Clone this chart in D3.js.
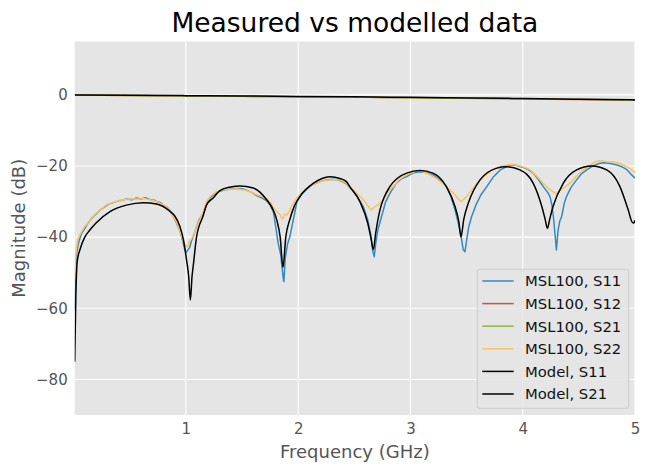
<!DOCTYPE html>
<html>
<head>
<meta charset="utf-8">
<script src="https://cdn.jsdelivr.net/npm/d3@7"></script>
<style>
  html, body { margin: 0; padding: 0; background: #fff; }
  svg { display: block; font-family: "DejaVu Sans", sans-serif; }
</style>
</head>
<body>
<svg id="chart" width="652" height="473"></svg>
<script>
// ---------------- data ----------------
const title = "Measured vs modelled data";
const xLabel = "Frequency (GHz)";
const yLabel = "Magnitude (dB)";
const xTicks = [1, 2, 3, 4, 5];
const yTicks = [0, -20, -40, -60, -80];
const seriesNames = ["MSL100, S11", "MSL100, S12", "MSL100, S21", "MSL100, S22", "Model, S11", "Model, S21"];
const seriesColors = ["#348ABD", "#C8553F", "#8EBA42", "#FBC15E", "#000000", "#000000"];

// measured S11 (GHz, dB)
const measS11Freq = [0.01,0.015,0.02,0.03,0.045,0.07,0.1,0.13,0.16,0.2,0.234,0.27,0.31,0.352,0.4,0.44,0.47,0.52,0.56,0.6,0.64,0.68,0.72,0.74,0.78,0.81,0.828,0.86,0.887,0.917,0.95,0.975,0.991,1.005,1.02,1.035,1.05,1.07,1.095,1.12,1.154,1.184,1.22,1.273,1.33,1.392,1.45,1.5,1.54,1.59,1.63,1.68,1.72,1.75,1.78,1.8,1.822,1.845,1.865,1.873,1.885,1.905,1.926,1.945,1.956,1.99,2.03,2.075,2.13,2.194,2.25,2.313,2.37,2.43,2.49,2.53,2.58,2.62,2.645,2.665,2.678,2.69,2.71,2.743,2.78,2.817,2.87,2.92,2.966,3.02,3.085,3.14,3.2,3.26,3.32,3.36,3.397,3.427,3.45,3.47,3.486,3.5,3.52,3.545,3.59,3.63,3.68,3.74,3.8,3.886,3.94,4.005,4.05,4.094,4.14,4.183,4.22,4.243,4.26,4.273,4.29,4.3,4.315,4.33,4.347,4.37,4.39,4.43,4.48,4.52,4.57,4.63,4.68,4.72,4.78,4.84,4.89,4.93,4.97,5.0];
const measS11 = [-60.5,-55,-48,-44,-41.5,-39,-37.5,-36,-34.8,-33.5,-32.4,-31.6,-30.8,-30.3,-29.8,-29.6,-29.3,-29.5,-29.0,-29.3,-28.9,-29.4,-29.6,-30,-30.4,-31.3,-31.4,-32.6,-34.2,-36.1,-38.5,-41.5,-43.6,-44.2,-43.5,-42.8,-41,-39.5,-37,-35,-33.3,-30.5,-28.8,-27.4,-26.8,-26.5,-26.3,-26.4,-26.8,-27.5,-28.3,-29.0,-29.8,-31,-33,-37,-41.7,-45,-51,-52.5,-46,-42,-39.9,-37,-35.2,-30,-28,-26.5,-25.2,-24.4,-23.9,-23.7,-24,-25,-27.1,-28.8,-31.4,-35.2,-39,-44,-45.5,-42,-38,-34.2,-30,-27.7,-25,-23.6,-23,-22,-21.6,-21.8,-22.5,-23.8,-25.8,-28.5,-32.4,-36.1,-39.5,-43.5,-44.1,-41,-37,-34.2,-30.5,-28,-25.8,-23,-21.1,-19.7,-19.8,-20.4,-21,-22,-23.8,-25.8,-27.3,-28.6,-31,-34.2,-40,-43.6,-38,-35.5,-34.2,-30.5,-28.6,-26,-23.9,-22.3,-21.1,-19.9,-19.3,-19.1,-19.3,-19.7,-20.3,-21.1,-22.5,-23.4];

// measured S22
const measS22Freq = [0.01,0.015,0.02,0.03,0.045,0.07,0.1,0.145,0.2,0.234,0.29,0.352,0.4,0.47,0.52,0.58,0.62,0.68,0.74,0.79,0.828,0.887,0.92,0.95,0.98,1.0,1.015,1.03,1.05,1.07,1.095,1.154,1.184,1.22,1.273,1.33,1.392,1.45,1.5,1.54,1.6,1.63,1.68,1.72,1.76,1.78,1.81,1.84,1.855,1.867,1.88,1.9,1.926,1.95,1.986,2.03,2.075,2.13,2.194,2.25,2.313,2.372,2.43,2.49,2.54,2.58,2.62,2.654,2.68,2.71,2.758,2.8,2.847,2.9,2.966,3.03,3.085,3.15,3.233,3.29,3.352,3.4,3.44,3.456,3.475,3.5,3.54,3.59,3.65,3.71,3.78,3.857,3.91,3.975,4.02,4.065,4.12,4.183,4.24,4.3,4.33,4.36,4.42,4.48,4.54,4.6,4.64,4.688,4.74,4.807,4.86,4.926,4.96,5.0];
const measS22 = [-52,-48,-45,-42,-40,-38.5,-37,-35.5,-33.3,-32.4,-31,-30.2,-29.8,-29.4,-29.2,-29.3,-29.1,-29.5,-30,-30.8,-31.4,-34.2,-36,-38.5,-41.5,-42.5,-42.7,-41.3,-40.5,-39.5,-37,-33,-30,-28.5,-27.2,-26.7,-26.6,-26.4,-26.7,-26.9,-27.6,-28.1,-28.6,-29.3,-30.5,-31.8,-32.8,-33.7,-34.8,-34.7,-33.5,-33.8,-32.4,-30.8,-29.1,-27.5,-26.3,-25.2,-24.4,-24,-23.9,-23.9,-24.9,-26.7,-28.2,-29.5,-31.2,-32.4,-31.5,-31,-29.5,-27.3,-25.8,-23.8,-22.5,-21.6,-21.3,-22.1,-23.5,-25,-26.7,-28.2,-29.7,-30,-29.3,-28.6,-27,-24.9,-23,-21.6,-20.3,-19.7,-19.6,-20,-20.4,-21.1,-22.7,-24.9,-26.6,-27.9,-26.9,-26.3,-24.9,-22.8,-21.1,-19.8,-18.9,-18.5,-18.7,-18.8,-19.2,-20.2,-20.8,-21.9];

// measured S12 / S21 (transmission)
const measThruFreq = [0.01,0.25,0.5,0.75,1,1.25,1.5,1.75,2,2.25,2.5,2.75,3,3.25,3.5,3.75,4,4.25,4.5,4.75,5];
const measS12 = [-0.02,-0.1,-0.2,-0.25,-0.3,-0.36,-0.4,-0.47,-0.52,-0.58,-0.62,-0.72,-0.78,-0.85,-0.95,-1.02,-1.12,-1.2,-1.28,-1.35,-1.42];
const measS21 = [-0.02,-0.11,-0.19,-0.26,-0.31,-0.35,-0.41,-0.46,-0.53,-0.57,-0.63,-0.71,-0.79,-0.86,-0.94,-1.03,-1.11,-1.21,-1.27,-1.36,-1.43];

// model S11
const modelS11Freq = [0.01,0.02,0.032,0.056,0.1,0.145,0.2,0.324,0.47,0.62,0.74,0.86,0.9,0.947,0.98,1.006,1.025,1.04,1.055,1.065,1.095,1.154,1.184,1.243,1.303,1.4,1.48,1.6,1.72,1.78,1.81,1.84,1.865,1.89,1.926,1.97,2.015,2.134,2.283,2.372,2.43,2.46,2.55,2.62,2.65,2.67,2.69,2.728,2.77,2.817,2.966,3.085,3.2,3.32,3.397,3.43,3.45,3.475,3.515,3.62,3.77,3.857,3.975,4.094,4.17,4.2,4.22,4.24,4.27,4.36,4.48,4.614,4.748,4.866,4.94,4.975,4.99,5.0];
const modelS11 = [-75,-57,-47,-43.6,-40,-38,-36,-32.8,-31,-30.3,-30.7,-32.8,-34,-37,-41,-46.4,-51,-57.7,-51,-48.3,-40,-34,-31,-29,-26.9,-25.9,-25.6,-26.2,-29.5,-32.5,-35.2,-40,-48.5,-40,-35,-31,-28.6,-24.9,-23,-23.5,-24.4,-25.8,-30,-36.1,-40.5,-43.5,-39,-32.4,-28.5,-25.8,-22,-21.3,-22,-25.8,-31.4,-35.5,-39.9,-35,-30.5,-23.9,-20.6,-20.2,-21.1,-24.9,-31.4,-35,-37.5,-35,-31.4,-24.9,-21.1,-20,-21.1,-25.8,-32.4,-35.8,-36,-35.2];

// model S21
const modelS21Freq = [0.01,0.5,1,1.5,2,2.5,3,3.5,4,4.5,5];
const modelS21 = [-0.01,-0.12,-0.22,-0.32,-0.43,-0.55,-0.7,-0.85,-1.03,-1.22,-1.42];

// ---------------- chart ----------------
const svg = d3.select("#chart");
const W = 652, H = 473;
const plot = { left: 74.7, right: 635, top: 41.5, bottom: 415 };

const x = d3.scaleLinear().domain([0.01, 5]).range([plot.left, plot.right]);
const y = d3.scaleLinear().domain([-90, 15]).range([plot.bottom, plot.top]);

svg.append("rect").attr("width", W).attr("height", H).attr("fill", "#fff");
svg.append("rect")
  .attr("x", plot.left).attr("y", plot.top)
  .attr("width", plot.right - plot.left).attr("height", plot.bottom - plot.top)
  .attr("fill", "#E5E5E5");

// grid
const grid = svg.append("g");
grid.selectAll(".gx").data(xTicks).join("line")
  .attr("x1", d => x(d)).attr("x2", d => x(d))
  .attr("y1", plot.top).attr("y2", plot.bottom)
  .attr("stroke", "#fff").attr("stroke-width", 1.1);
grid.selectAll(".gy").data(yTicks).join("line")
  .attr("x1", plot.left).attr("x2", plot.right)
  .attr("y1", d => y(d)).attr("y2", d => y(d))
  .attr("stroke", "#fff").attr("stroke-width", 1.1);

// axes (labels only, no tick marks, no domain)
const xAxis = svg.append("g")
  .attr("transform", `translate(0,${plot.bottom})`)
  .call(d3.axisBottom(x).tickValues(xTicks).tickFormat(d3.format("d")).tickSize(0).tickPadding(8));
const yAxis = svg.append("g")
  .attr("transform", `translate(${plot.left},0)`)
  .call(d3.axisLeft(y).tickValues(yTicks).tickFormat(d => d < 0 ? "\u2212" + Math.abs(d) : String(d)).tickSize(0).tickPadding(7));
[xAxis, yAxis].forEach(a => {
  a.select(".domain").remove();
  a.selectAll("text").attr("fill", "#555555").style("font-size", "15px")
    .style("font-family", "'DejaVu Sans', sans-serif");
});

// clip
svg.append("defs").append("clipPath").attr("id", "clip")
  .append("rect").attr("x", plot.left).attr("y", plot.top)
  .attr("width", plot.right - plot.left).attr("height", plot.bottom - plot.top);

const lineLinear = d3.line().x(d => x(d[0])).y(d => y(d[1]));
const lineSmooth = d3.line().x(d => x(d[0])).y(d => y(d[1])).curve(d3.curveMonotoneX);
const zip = (fs, vs) => fs.map((f, i) => [f, vs[i]]);

const seriesData = [
  zip(measS11Freq, measS11),
  zip(measThruFreq, measS12),
  zip(measThruFreq, measS21),
  zip(measS22Freq, measS22),
  zip(modelS11Freq, modelS11),
  zip(modelS21Freq, modelS21)
];

const lines = svg.append("g").attr("clip-path", "url(#clip)");
seriesData.forEach((data, i) => {
  lines.append("path")
    .datum(data)
    .attr("d", i >= 4 ? lineSmooth : lineLinear)
    .attr("fill", "none")
    .attr("stroke", seriesColors[i])
    .attr("stroke-width", 1.5)
    .attr("stroke-linejoin", "round");
});

// title & labels
svg.append("text")
  .attr("x", (plot.left + plot.right) / 2).attr("y", 31.5)
  .attr("text-anchor", "middle")
  .style("font-size", "26.5px").attr("fill", "#000")
  .text(title);
svg.append("text")
  .attr("x", (plot.left + plot.right) / 2).attr("y", 458)
  .attr("text-anchor", "middle")
  .style("font-size", "18px").attr("fill", "#555555")
  .text(xLabel);
svg.append("text")
  .attr("transform", `translate(25,${(plot.top + plot.bottom) / 2}) rotate(-90)`)
  .attr("text-anchor", "middle")
  .style("font-size", "18px").attr("fill", "#555555")
  .text(yLabel);

// legend
const lg = svg.append("g");
const lgBox = { x: 477.3, y: 269.3, w: 151.4, h: 139 };
lg.append("rect")
  .attr("x", lgBox.x).attr("y", lgBox.y).attr("width", lgBox.w).attr("height", lgBox.h)
  .attr("rx", 2).attr("fill", "#E5E5E5").attr("fill-opacity", 0.8)
  .attr("stroke", "#CCCCCC").attr("stroke-width", 1);
const rowY = d3.scaleLinear().domain([0, seriesNames.length - 1]).range([281, 394]);
seriesNames.forEach((name, i) => {
  const cy = rowY(i);
  lg.append("line")
    .attr("x1", 482.3).attr("x2", 513.7).attr("y1", cy).attr("y2", cy)
    .attr("stroke", seriesColors[i]).attr("stroke-width", 1.5);
  lg.append("text")
    .attr("x", 525).attr("y", cy).attr("dy", "0.36em")
    .style("font-size", "14.8px").attr("fill", "#111")
    .text(name);
});
</script>
</body>
</html>
